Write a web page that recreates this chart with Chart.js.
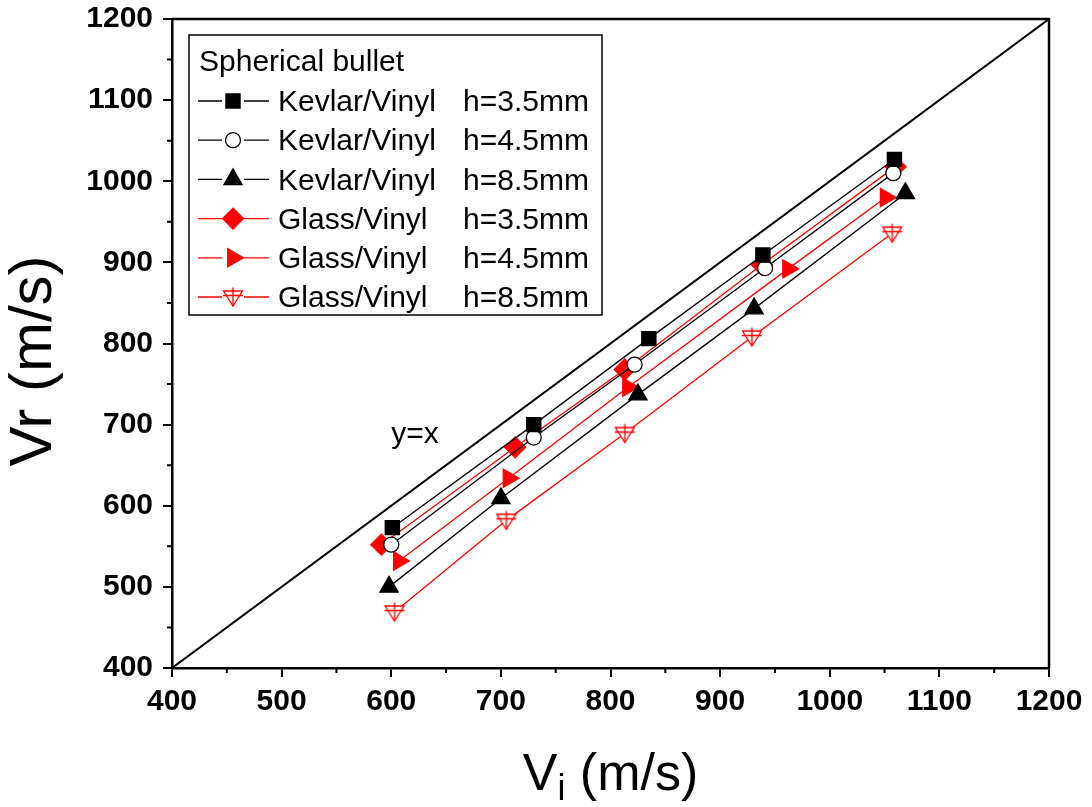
<!DOCTYPE html>
<html>
<head>
<meta charset="utf-8">
<script src="https://cdn.jsdelivr.net/npm/chart.js@4.4.0/dist/chart.umd.min.js"></script>
<style>
  html, body { margin: 0; padding: 0; background: #fff; }
</style>
</head>
<body>
<canvas id="chart" width="1092" height="807"></canvas>
<script>
// values
var legendTitle = "Spherical bullet";
var materials = ["Kevlar/Vinyl", "Kevlar/Vinyl", "Kevlar/Vinyl", "Glass/Vinyl", "Glass/Vinyl", "Glass/Vinyl"];
var thickness = ["h=3.5mm", "h=4.5mm", "h=8.5mm", "h=3.5mm", "h=4.5mm", "h=8.5mm"];

var kevlar35Vi = [601, 730, 835, 939, 1059];
var kevlar35Vr = [573, 700, 806, 909, 1027];
var kevlar45Vi = [600, 730, 822, 941, 1058];
var kevlar45Vr = [552, 684, 774, 893, 1010];
var kevlar85Vi = [598, 700, 825, 931, 1069];
var kevlar85Vr = [500, 609, 737, 843, 985];
var glass35Vi = [591, 713, 813, 938, 1060];
var glass35Vr = [552, 672, 768, 897, 1018];
var glass45Vi = [607, 707, 816, 962, 1051];
var glass45Vr = [532, 634, 746, 892, 980];
var glass85Vi = [603, 705, 813, 929, 1057];
var glass85Vr = [469, 582, 689, 808, 936];

var refLineX = [400, 1200];
var refLineY = [400, 1200];

var axisMin = 400, axisMax = 1200;

var FONT = "'Liberation Sans', Arial, sans-serif";

function pts(xs, ys) {
  return xs.map(function (x, i) { return { x: x, y: ys[i] }; });
}

// open down-triangle with a cross, as in the Origin marker
function triPlus(color) {
  var c = document.createElement('canvas');
  c.width = 24; c.height = 24;
  var g = c.getContext('2d');
  g.strokeStyle = color;
  g.lineWidth = 1.3;
  g.fillStyle = '#fff';
  g.beginPath();
  g.moveTo(2.5, 6); g.lineTo(21.5, 6); g.lineTo(12, 21); g.closePath();
  g.fill(); g.stroke();
  g.beginPath();
  g.moveTo(12, 2.5); g.lineTo(12, 21);
  g.moveTo(2, 10.5); g.lineTo(22, 10.5);
  g.stroke();
  return c;
}

function series(label, xs, ys, color, style, radius, fill, rotation) {
  return {
    label: label,
    data: pts(xs, ys),
    showLine: true,
    borderColor: color,
    borderWidth: 1.3,
    pointStyle: style,
    pointRadius: radius,
    pointRotation: rotation || 0,
    pointBackgroundColor: fill,
    pointBorderColor: color,
    pointBorderWidth: 1.3,
    pointHoverRadius: radius
  };
}

var datasets = [
  {
    label: 'y=x',
    data: pts(refLineX, refLineY),
    showLine: true,
    borderColor: '#000',
    borderWidth: 2,
    pointRadius: 0
  },
  series(materials[0] + ' ' + thickness[0], kevlar35Vi, kevlar35Vr, '#000', 'rect', 10, '#000'),
  series(materials[1] + ' ' + thickness[1], kevlar45Vi, kevlar45Vr, '#000', 'circle', 7.5, '#fff'),
  series(materials[2] + ' ' + thickness[2], kevlar85Vi, kevlar85Vr, '#000', 'triangle', 10.5, '#000'),
  series(materials[3] + ' ' + thickness[3], glass35Vi, glass35Vr, '#ff0000', 'rectRot', 10.5, '#ff0000'),
  series(materials[4] + ' ' + thickness[4], glass45Vi, glass45Vr, '#ff0000', 'triangle', 10.5, '#ff0000', 90),
  series(materials[5] + ' ' + thickness[5], glass85Vi, glass85Vr, '#ff0000', triPlus('#ff0000'), 10, '#fff')
];

var decorPlugin = {
  id: 'decor',
  afterDraw: function (chart) {
    var ctx = chart.ctx;
    var a = chart.chartArea;
    var xs = chart.scales.x, ys = chart.scales.y;
    ctx.save();

    // frame on top and right
    ctx.strokeStyle = '#000';
    ctx.lineWidth = 2.5;
    ctx.beginPath();
    ctx.moveTo(a.left, a.top); ctx.lineTo(a.right, a.top); ctx.lineTo(a.right, a.bottom);
    ctx.stroke();

    // minor ticks
    ctx.lineWidth = 2;
    ctx.beginPath();
    for (var v = axisMin + 50; v < axisMax; v += 100) {
      var px = xs.getPixelForValue(v);
      ctx.moveTo(px, a.bottom); ctx.lineTo(px, a.bottom + 5);
      var py = ys.getPixelForValue(v);
      ctx.moveTo(a.left, py); ctx.lineTo(a.left - 5, py);
    }
    ctx.stroke();

    // y=x note
    ctx.fillStyle = '#000';
    ctx.font = '30px ' + FONT;
    ctx.textAlign = 'left';
    ctx.textBaseline = 'alphabetic';
    ctx.fillText('y=x', xs.getPixelForValue(600), ys.getPixelForValue(677));

    // x axis title with subscript
    var big = '52px ' + FONT, small = '36px ' + FONT;
    ctx.font = big; var wV = ctx.measureText('V').width; var wRest = ctx.measureText(' (m/s)').width;
    ctx.font = small; var wi = ctx.measureText('i').width;
    var x0 = (a.left + a.right) / 2 - (wV + wi + wRest) / 2;
    var base = 790;
    ctx.font = big; ctx.fillText('V', x0, base);
    ctx.font = small; ctx.fillText('i', x0 + wV, base + 10);
    ctx.font = big; ctx.fillText(' (m/s)', x0 + wV + wi, base);

    // y axis title
    ctx.save();
    ctx.translate(34, 361);
    ctx.rotate(-Math.PI / 2);
    ctx.textAlign = 'center';
    ctx.textBaseline = 'middle';
    ctx.font = '60px ' + FONT;
    ctx.fillText('Vr (m/s)', 0, 0);
    ctx.restore();

    // legend box
    var bx = 189, by = 35, bw = 413, bh = 280;
    ctx.fillStyle = '#fff';
    ctx.fillRect(bx, by, bw, bh);
    ctx.strokeStyle = '#000';
    ctx.lineWidth = 1.5;
    ctx.strokeRect(bx, by, bw, bh);
    ctx.fillStyle = '#000';
    ctx.font = '30px ' + FONT;
    ctx.textBaseline = 'middle';
    ctx.fillText(legendTitle, 199, 63);
    for (var i = 0; i < 6; i++) {
      var ds = chart.data.datasets[i + 1];
      var ry = 101 + i * 39.2;
      ctx.strokeStyle = ds.borderColor;
      ctx.lineWidth = 1.3;
      ctx.beginPath();
      ctx.moveTo(198, ry); ctx.lineTo(222, ry);
      ctx.moveTo(244, ry); ctx.lineTo(269, ry);
      ctx.stroke();
      ctx.fillStyle = ds.pointBackgroundColor;
      ctx.strokeStyle = ds.pointBorderColor;
      Chart.helpers.drawPoint(ctx, {
        pointStyle: ds.pointStyle, radius: ds.pointRadius,
        rotation: ds.pointRotation, borderWidth: 1.3
      }, 233, ry);
      ctx.fillStyle = '#000';
      ctx.fillText(materials[i], 278, ry + 2);
      ctx.fillText(thickness[i], 463, ry + 2);
    }
    ctx.restore();
  }
};

function plain(v) { return String(v); }

var ctx = document.getElementById('chart').getContext('2d');
var chart = new Chart(ctx, {
  type: 'scatter',
  data: { datasets: datasets },
  options: {
    responsive: false,
    animation: false,
    layout: { padding: { top: 19, right: 43, left: 0, bottom: 0 } },
    plugins: {
      legend: { display: false },
      tooltip: { enabled: false }
    },
    scales: {
      x: {
        type: 'linear', min: axisMin, max: axisMax,
        ticks: { stepSize: 100, color: '#000', padding: 7, callback: plain,
          font: { family: FONT, size: 30, weight: 'bold' } },
        grid: { drawOnChartArea: false, tickLength: 9, color: '#000', lineWidth: 2 },
        border: { color: '#000', width: 2.5 },
        afterFit: function (s) { s.height = 139; s.paddingLeft = 0; s.paddingRight = 0; }
      },
      y: {
        type: 'linear', min: axisMin, max: axisMax,
        ticks: { stepSize: 100, color: '#000', padding: 10, callback: plain,
          font: { family: FONT, size: 30, weight: 'bold' } },
        grid: { drawOnChartArea: false, tickLength: 9, color: '#000', lineWidth: 2 },
        border: { color: '#000', width: 2.5 },
        afterFit: function (s) { s.width = 172; s.paddingTop = 0; s.paddingBottom = 0; }
      }
    }
  },
  plugins: [decorPlugin]
});
</script>
</body>
</html>
